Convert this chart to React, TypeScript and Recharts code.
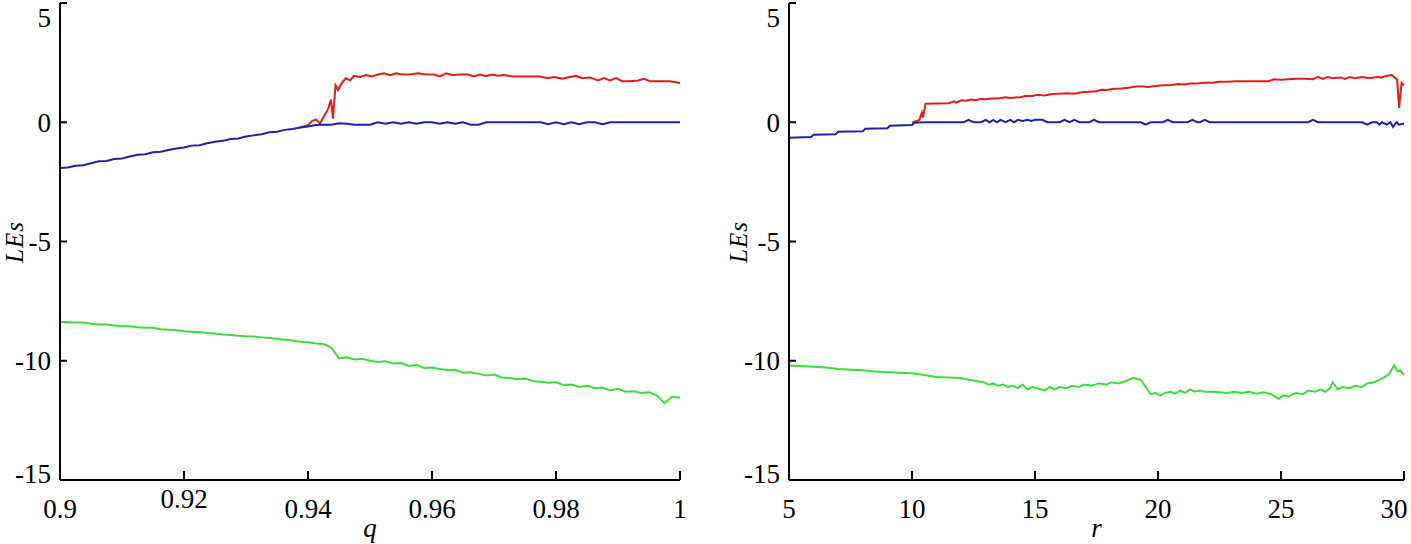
import React from 'react';
import { LineChart, Line, XAxis, YAxis } from 'recharts';

// panel (a): q axis
const qGrid = [
  0.9, 0.90125, 0.9025, 0.90375, 0.905, 0.90625, 0.9075, 0.90875, 0.91, 0.91125,
  0.9125, 0.91375, 0.915, 0.91625, 0.9175, 0.91875, 0.92, 0.92125, 0.9225, 0.92375,
  0.925, 0.92625, 0.9275, 0.92875, 0.93, 0.93125, 0.9325, 0.93375, 0.935, 0.93625,
  0.9375, 0.93875, 0.94, 0.94125, 0.9425, 0.94375, 0.945, 0.94625, 0.9475, 0.94875,
  0.95, 0.95125, 0.9525, 0.95375, 0.955, 0.95625, 0.9575, 0.95875, 0.96, 0.96125,
  0.9625, 0.96375, 0.965, 0.96625, 0.9675, 0.96875, 0.97, 0.97125, 0.9725, 0.97375,
  0.975, 0.97625, 0.9775, 0.97875, 0.98, 0.98125, 0.9825, 0.98375, 0.985, 0.98625,
  0.9875, 0.98875, 0.99, 0.99125, 0.9925, 0.99375, 0.995, 0.99625, 0.9975, 0.99875, 1.0,
];
const blueA = [
  -1.92, -1.9, -1.82, -1.8, -1.72, -1.64, -1.62, -1.54, -1.52, -1.44,
  -1.36, -1.34, -1.26, -1.24, -1.16, -1.1, -1.06, -0.98, -0.96, -0.88,
  -0.82, -0.78, -0.7, -0.68, -0.6, -0.55, -0.5, -0.42, -0.4, -0.32,
  -0.28, -0.22, -0.18, -0.12, -0.1, -0.1, -0.04, -0.06, -0.1, -0.1,
  -0.1, 0, -0.06, 0, -0.06, 0, -0.06, 0, 0, -0.06,
  0, -0.06, 0, -0.1, -0.1, 0, 0, 0, 0, 0,
  0, 0, 0, -0.08, 0, -0.08, 0, -0.08, 0, 0,
  -0.08, 0, 0, 0, 0, 0, 0, 0, 0, 0, 0,
];
const greenA = [
  -8.38, -8.38, -8.4, -8.4, -8.45, -8.48, -8.48, -8.52, -8.55, -8.55,
  -8.6, -8.62, -8.62, -8.68, -8.7, -8.72, -8.76, -8.78, -8.8, -8.84,
  -8.86, -8.9, -8.92, -8.95, -8.97, -8.98, -9.02, -9.05, -9.08, -9.12,
  -9.15, -9.2, -9.22, -9.28, -9.3, -9.45, -9.9, -9.85, -9.95, -9.92,
  -10.0, -10.05, -10.02, -10.12, -10.1, -10.22, -10.18, -10.3, -10.28, -10.35,
  -10.4, -10.38, -10.5, -10.48, -10.55, -10.62, -10.58, -10.7, -10.72, -10.78,
  -10.75, -10.85, -10.88, -10.92, -10.9, -11.02, -11.0, -11.1, -11.05, -11.15,
  -11.12, -11.25, -11.18, -11.3, -11.28, -11.35, -11.32, -11.45, -11.78, -11.5, -11.55,
];
const qRed = [
  0.93871, 0.94, 0.94065, 0.94129, 0.94194, 0.94258, 0.94323, 0.94371, 0.94403, 0.94444,
  0.94484, 0.94548, 0.94613, 0.94677, 0.94742, 0.94839, 0.94935, 0.95032, 0.95129, 0.95226,
  0.95323, 0.95419, 0.95516, 0.95645, 0.95774, 0.95903, 0.96032, 0.96129, 0.96226, 0.96323,
  0.96452, 0.96581, 0.96677, 0.96774, 0.96871, 0.96968, 0.97065, 0.97161, 0.9729, 0.97419,
  0.97581, 0.97742, 0.97871, 0.97968, 0.98097, 0.98226, 0.98323, 0.98419, 0.98548, 0.98677,
  0.98774, 0.98871, 0.98968, 0.99065, 0.99194, 0.99323, 0.99419, 0.99516, 0.99677, 0.99839, 1.0,
];
const redA = [
  -0.22, -0.12, 0.05, 0.12, -0.05, 0.25, 0.55, 0.95, 0.15, 1.55,
  1.35, 1.65, 1.85, 1.75, 1.95, 1.9, 1.98, 1.92, 2.0, 2.05,
  1.97, 2.05, 2.0, 2.0, 2.05, 2.0, 2.0, 1.92, 2.05, 1.98,
  2.0, 2.0, 1.92, 2.0, 1.93, 2.0, 1.95, 1.98, 1.92, 1.92,
  1.92, 1.92, 1.85, 1.9, 1.82, 1.9, 1.95, 1.85, 1.88, 1.75,
  1.85, 1.75, 1.85, 1.72, 1.72, 1.75, 1.82, 1.72, 1.72, 1.72, 1.65,
];

// panel (b): r axis
const rBlue = [
  5.0, 5.9, 6.0, 6.9, 7.0, 8.0, 8.1, 9.0, 9.1, 10.0,
  10.1, 10.5, 12.1, 12.3, 12.5, 12.8, 13.0, 13.15, 13.3, 13.45,
  13.6, 13.8, 14.0, 14.15, 14.3, 14.5, 14.7, 14.85, 15.0, 15.3,
  15.5, 16.0, 16.2, 16.4, 16.6, 16.8, 17.2, 17.4, 17.6, 19.3,
  19.5, 19.7, 20.2, 20.4, 20.6, 21.2, 21.4, 21.6, 21.7, 21.9,
  22.1, 26.1, 26.3, 26.5, 28.3, 28.5, 28.7, 28.9, 29.0, 29.1,
  29.3, 29.45, 29.55, 29.7, 29.8, 30.0,
];
const blueB = [
  -0.65, -0.62, -0.52, -0.5, -0.4, -0.38, -0.27, -0.25, -0.15, -0.12,
  -0.02, 0, 0, 0.1, 0, 0, 0.1, 0, 0.1, 0,
  0.1, 0, 0.1, 0, 0.1, 0.05, 0.1, 0.05, 0.1, 0.1,
  0, 0, 0.1, 0, 0.1, 0, 0, 0.1, 0, 0,
  -0.1, 0, 0, 0.1, 0, 0, 0.1, 0, 0, 0.1,
  0, 0, 0.1, 0, 0, -0.1, 0, 0, -0.1, 0,
  -0.1, 0, -0.2, 0, -0.1, -0.05,
];
const rRed = [
  10.0, 10.3, 10.4, 10.45, 10.55, 11.5, 11.7, 11.8, 12.0, 12.2,
  12.4, 12.6, 12.8, 13.0, 13.2, 13.5, 13.8, 14.0, 14.4, 14.6,
  14.9, 15.1, 15.4, 15.7, 16.0, 16.3, 16.6, 16.9, 17.2, 17.5,
  17.7, 17.9, 18.2, 18.5, 18.8, 19.1, 19.4, 19.6, 19.9, 20.2,
  20.5, 20.8, 21.1, 21.3, 21.6, 21.8, 22.2, 22.5, 22.8, 23.2,
  23.6, 24.0, 24.5, 24.7, 25.0, 25.3, 25.6, 26.0, 26.3, 26.5,
  26.7, 26.9, 27.1, 27.4, 27.6, 27.8, 28.0, 28.3, 28.6, 28.9,
  29.1, 29.3, 29.5, 29.65, 29.72, 29.8, 29.9, 30.0,
];
const redB = [
  -0.02, 0.1, 0.4, 0.2, 0.78, 0.8, 0.88, 0.82, 0.92, 0.9,
  0.95, 0.92, 0.98, 0.96, 1.0, 1.0, 1.05, 1.02, 1.05, 1.1,
  1.1, 1.15, 1.12, 1.18, 1.2, 1.22, 1.2, 1.26, 1.28, 1.3,
  1.36, 1.35, 1.4, 1.42, 1.45, 1.5, 1.5, 1.48, 1.52, 1.55,
  1.55, 1.6, 1.58, 1.62, 1.62, 1.66, 1.66, 1.7, 1.7, 1.72,
  1.72, 1.72, 1.72, 1.8, 1.78, 1.8, 1.82, 1.82, 1.8, 1.9,
  1.82, 1.9, 1.85, 1.88, 1.82, 1.9, 1.85, 1.9, 1.85, 1.9,
  1.88, 1.95, 1.98, 1.85, 1.8, 0.6, 1.65, 1.55,
];
const rGreen = [
  5.0, 5.5, 6.0, 6.5, 7.0, 7.5, 8.0, 8.5, 9.0, 9.5,
  10.0, 10.5, 11.0, 11.5, 12.0, 12.3, 12.6, 12.9, 13.1, 13.3,
  13.5, 13.7, 13.9, 14.1, 14.3, 14.5, 14.7, 14.9, 15.1, 15.4,
  15.6, 15.8, 16.0, 16.3, 16.5, 16.8, 17.0, 17.3, 17.6, 17.9,
  18.1, 18.4, 18.7, 19.0, 19.3, 19.5, 19.7, 19.9, 20.1, 20.3,
  20.5, 20.7, 20.9, 21.1, 21.3, 21.5, 21.7, 21.9, 22.2, 22.5,
  22.8, 23.1, 23.4, 23.7, 24.0, 24.3, 24.6, 24.9, 25.1, 25.3,
  25.6, 25.9, 26.1, 26.4, 26.6, 26.8, 27.0, 27.1, 27.3, 27.5,
  27.8, 28.0, 28.3, 28.5, 28.8, 29.0, 29.2, 29.4, 29.6, 29.75,
  29.85, 30.0,
];
const greenB = [
  -10.2, -10.22, -10.25, -10.28, -10.35, -10.38, -10.4, -10.45, -10.48, -10.5,
  -10.52, -10.6, -10.68, -10.7, -10.72, -10.8, -10.85, -10.9, -11.0, -10.95,
  -11.05, -11.0, -11.1, -11.05, -11.15, -11.0, -11.2, -11.1, -11.15, -11.25,
  -11.1, -11.2, -11.1, -11.15, -11.05, -11.1, -11.0, -11.05, -10.95, -11.0,
  -10.9, -10.95, -10.85, -10.72, -10.8, -11.1, -11.4, -11.35, -11.45, -11.35,
  -11.3, -11.38, -11.25, -11.35, -11.2, -11.3, -11.25, -11.3, -11.3, -11.32,
  -11.35, -11.3, -11.35, -11.3, -11.38, -11.32, -11.4, -11.6, -11.45, -11.5,
  -11.35, -11.4, -11.25, -11.3, -11.2, -11.3, -11.15, -10.9, -11.2, -11.1,
  -11.15, -11.05, -11.1, -10.95, -10.9, -10.8, -10.7, -10.55, -10.2, -10.45,
  -10.4, -10.6,
];

const yTicks = [5, 0, -5, -10, -15];
const qTicks = [0.9, 0.92, 0.94, 0.96, 0.98, 1];
const rTicks = [5, 10, 15, 20, 25, 30];

const RED = '#e01c1c';
const BLUE = '#2020a6';
const GREEN = '#3ddc3d';
const serif = { fontFamily: "'Liberation Serif', 'Times New Roman', serif" };

const pairs = (xs: number[], ys: number[]) => xs.map((x, i) => ({ x, v: ys[i] }));

const PLOT_TOP = 3;
const PLOT_BOTTOM = 480;

const makeBottomTick = (maxX: number) => (p: any) => {
  const v = p.payload.value;
  const lift = v === 0.92 ? 10 : 0;
  const tx = Math.min(p.x, maxX);
  return (
    <g>
      <line x1={p.x} y1={p.y} x2={p.x} y2={p.y - 9} stroke="#000" strokeWidth={2} />
      <text x={tx} y={p.y + 38 - lift} textAnchor="middle" style={serif} fontSize={27} fill="#000">
        {String(v)}
      </text>
    </g>
  );
};

const LeftTick = (p: any) => {
  const ty = Math.min(Math.max(p.y, PLOT_TOP + 15), PLOT_BOTTOM - 6);
  return (
    <g>
      <line x1={p.x} y1={p.y} x2={p.x + 7} y2={p.y} stroke="#000" strokeWidth={2} />
      <text x={p.x - 9} y={ty} dy="0.35em" textAnchor="end" style={serif} fontSize={27} fill="#000">
        {String(p.payload.value)}
      </text>
    </g>
  );
};

const TopTick = (p: any) => (
  <line x1={p.x} y1={p.y} x2={p.x} y2={p.y + 8} stroke="#000" strokeWidth={2} />
);

const RightTick = (p: any) => (
  <line x1={p.x} y1={p.y} x2={p.x - 8} y2={p.y} stroke="#000" strokeWidth={2} />
);

const axisLine = { stroke: '#000', strokeWidth: 2 };

type PanelProps = {
  width: number;
  yAxisWidth: number;
  marginRight: number;
  xTicks: number[];
  xDomain: [number, number];
  xName: string;
  tag: string;
  yLabelX: number;
  red: { x: number; v: number }[];
  blue: { x: number; v: number }[];
  green: { x: number; v: number }[];
};

function Panel(props: PanelProps) {
  const { width, yAxisWidth, marginRight, xTicks, xDomain, xName, tag, yLabelX } = props;
  const plotCenter = yAxisWidth + (width - yAxisWidth - marginRight) / 2;
  const BottomTick = makeBottomTick(width - 17);
  return (
    <LineChart width={width} height={544} margin={{ top: PLOT_TOP, right: marginRight, bottom: 0, left: 0 }}>
      <XAxis
        dataKey="x"
        type="number"
        domain={xDomain}
        ticks={xTicks}
        interval={0}
        height={64}
        tickSize={0}
        tickMargin={0}
        tickLine={false}
        axisLine={axisLine}
        tick={(p: any) => <BottomTick {...p} />}
        label={() => (
          <text x={plotCenter} y={537} textAnchor="middle" style={serif} fontStyle="italic" fontSize={27} fill="#000">
            {xName}
          </text>
        )}
      />
      <XAxis
        xAxisId="top"
        orientation="top"
        type="number"
        domain={xDomain}
        ticks={xTicks}
        interval={0}
        height={0}
        tickSize={0}
        tickMargin={0}
        tickLine={false}
        axisLine={axisLine}
        tick={(p: any) => <TopTick {...p} />}
        label={() => (
          <text x={yAxisWidth + 14} y={36} style={serif} fontSize={26} fill="#000">
            {tag}
          </text>
        )}
      />
      <YAxis
        type="number"
        domain={[-15, 5]}
        ticks={yTicks}
        interval={0}
        width={yAxisWidth}
        tickSize={0}
        tickMargin={0}
        tickLine={false}
        axisLine={axisLine}
        allowDataOverflow
        tick={(p: any) => <LeftTick {...p} />}
        label={() => (
          <text
            x={yLabelX}
            y={242}
            transform={`rotate(-90, ${yLabelX}, 242)`}
            textAnchor="middle"
            style={serif}
            fontStyle="italic"
            fontSize={25}
            letterSpacing={1}
            fill="#000"
          >
            LEs
          </text>
        )}
      />
      <YAxis
        yAxisId="right"
        orientation="right"
        type="number"
        domain={[-15, 5]}
        ticks={yTicks}
        interval={0}
        width={0}
        tickSize={0}
        tickMargin={0}
        tickLine={false}
        axisLine={axisLine}
        tick={(p: any) => <RightTick {...p} />}
      />
      <Line data={props.green} dataKey="v" type="linear" stroke={GREEN} strokeWidth={2} dot={false} isAnimationActive={false} />
      <Line data={props.red} dataKey="v" type="linear" stroke={RED} strokeWidth={2} dot={false} isAnimationActive={false} />
      <Line data={props.blue} dataKey="v" type="linear" stroke={BLUE} strokeWidth={2} dot={false} isAnimationActive={false} />
    </LineChart>
  );
}

export default function App() {
  return (
    <div style={{ position: 'absolute', left: 0, top: 0, width: 1411, height: 544, background: '#fff' }}>
      <div style={{ position: 'absolute', left: 0, top: 0 }}>
        <Panel
          width={700}
          yAxisWidth={60}
          marginRight={20}
          xTicks={qTicks}
          xDomain={[0.9, 1]}
          xName="q"
          tag="(a)"
          yLabelX={23}
          red={pairs(qRed, redA)}
          blue={pairs(qGrid, blueA)}
          green={pairs(qGrid, greenA)}
        />
      </div>
      <div style={{ position: 'absolute', left: 700, top: 0 }}>
        <Panel
          width={711}
          yAxisWidth={89}
          marginRight={7}
          xTicks={rTicks}
          xDomain={[5, 30]}
          xName="r"
          tag="(b)"
          yLabelX={47}
          red={pairs(rRed, redB)}
          blue={pairs(rBlue, blueB)}
          green={pairs(rGreen, greenB)}
        />
      </div>
    </div>
  );
}
